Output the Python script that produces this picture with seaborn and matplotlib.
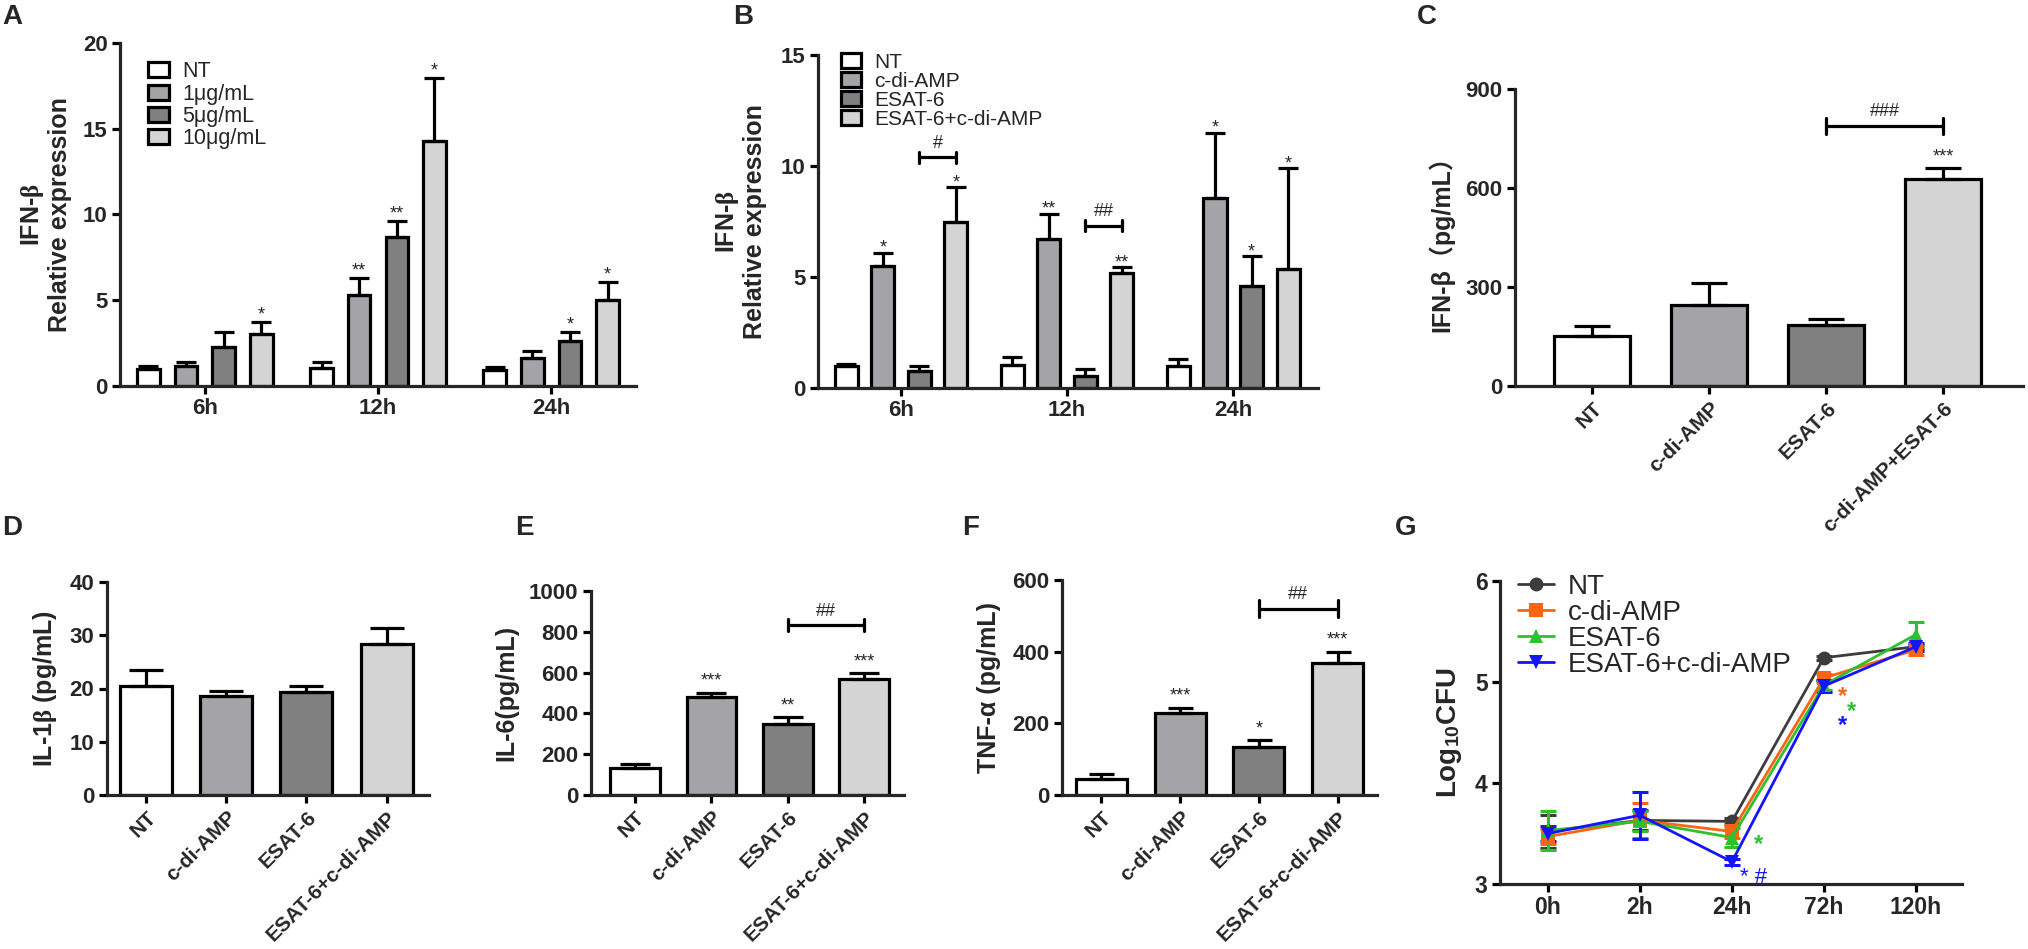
import numpy as np
import pandas as pd
import matplotlib
matplotlib.use("Agg")
import matplotlib.pyplot as plt
import seaborn as sns

# ---------------- data ----------------
# Panel A
a_times = ["6h", "12h", "24h"]
a_doses = ["NT", "1μg/mL", "5μg/mL", "10μg/mL"]
a_nt = [1.00, 1.05, 0.95]
a_nt_err = [1.15, 1.38, 1.10]
a_d1 = [1.18, 5.30, 1.65]
a_d1_err = [1.38, 6.30, 2.05]
a_d5 = [2.27, 8.70, 2.60]
a_d5_err = [3.15, 9.62, 3.15]
a_d10 = [3.03, 14.30, 5.02]
a_d10_err = [3.73, 17.95, 6.07]
a_sig = [["", "", "", "*"], ["", "**", "**", "*"], ["", "", "*", "*"]]

# Panel B
b_times = ["6h", "12h", "24h"]
b_groups = ["NT", "c-di-AMP", "ESAT-6", "ESAT-6+c-di-AMP"]
b_nt = [1.00, 1.05, 1.00]
b_nt_err = [1.10, 1.40, 1.30]
b_cdi = [5.50, 6.70, 8.57]
b_cdi_err = [6.10, 7.85, 11.50]
b_esat = [0.75, 0.55, 4.60]
b_esat_err = [1.00, 0.85, 5.95]
b_comb = [7.50, 5.20, 5.35]
b_comb_err = [9.05, 5.45, 9.90]
b_sig = [["", "*", "", "*"], ["", "**", "", "**"], ["", "*", "*", "*"]]
b_hash = ["#", "##", ""]
b_hash_y = [10.4, 7.3, None]

# Panel C
c_groups = ["NT", "c-di-AMP", "ESAT-6", "c-di-AMP+ESAT-6"]
c_vals = [151, 245, 185, 628]
c_err = [182, 312, 202, 661]
c_sig = ["", "", "", "***"]
c_hash, c_hash_y = "###", 788

# Panels D, E, F
def_groups = ["NT", "c-di-AMP", "ESAT-6", "ESAT-6+c-di-AMP"]
d_vals = [20.4, 18.6, 19.4, 28.3]
d_err = [23.4, 19.6, 20.5, 31.3]
d_sig = ["", "", "", ""]
e_vals = [131, 482, 348, 569]
e_err = [150, 502, 382, 597]
e_sig = ["", "***", "**", "***"]
e_hash, e_hash_y = "##", 833
f_vals = [44, 229, 135, 367]
f_err = [60, 244, 154, 400]
f_sig = ["", "***", "*", "***"]
f_hash, f_hash_y = "##", 520

# Panel G
g_times = ["0h", "2h", "24h", "72h", "120h"]
g_nt = [3.52, 3.63, 3.62, 5.24, 5.35]
g_nt_sd = [0.16, 0.10, 0.03, 0.02, 0.02]
g_cdi = [3.47, 3.63, 3.52, 5.04, 5.32]
g_cdi_sd = [0.07, 0.17, 0.06, 0.04, 0.05]
g_esat = [3.53, 3.62, 3.46, 4.97, 5.47]
g_esat_sd = [0.19, 0.10, 0.09, 0.05, 0.12]
g_comb = [3.50, 3.68, 3.22, 4.96, 5.35]
g_comb_sd = [0.07, 0.23, 0.03, 0.06, 0.04]

# ---------------- style ----------------
sns.set_style("ticks")
plt.rcParams["font.family"] = ["Liberation Sans", "Noto Sans CJK SC", "DejaVu Sans"]
plt.rcParams["font.weight"] = "bold"
plt.rcParams["axes.labelweight"] = "bold"
plt.rcParams["mathtext.fontset"] = "custom"
plt.rcParams["mathtext.rm"] = "Liberation Serif"
plt.rcParams["mathtext.it"] = "Liberation Serif:italic"
plt.rcParams["mathtext.bf"] = "Liberation Sans:bold"
plt.rcParams["mathtext.sf"] = "Liberation Sans"

bar_pal = ["#FFFFFF", "#A3A3A8", "#808080", "#D4D4D4"]
LW = 2.3
TICK_FS = 16
LAB_FS = 18

W, H = 2028, 949
fig = plt.figure(figsize=(W / 100, H / 100), dpi=100)


def add_ax(l, r, t, b):
    return fig.add_axes([l / W, 1 - b / H, (r - l) / W, (b - t) / H])


def style(ax):
    sns.despine(ax=ax)
    for s in ["left", "bottom"]:
        ax.spines[s].set_linewidth(LW)
    ax.tick_params(width=LW, length=6, labelsize=TICK_FS, pad=3, color="black")
    for lab in ax.get_xticklabels() + ax.get_yticklabels():
        lab.set_fontweight("bold")


def bars_sorted(ax):
    bs = [p for c in ax.containers for p in c]
    return sorted(bs, key=lambda p: p.get_x())


def add_err(ax, bars, tops, capsize):
    xs = [b.get_x() + b.get_width() / 2 for b in bars]
    hs = [b.get_height() for b in bars]
    up = [t - h for t, h in zip(tops, hs)]
    ax.errorbar(xs, hs, yerr=[np.zeros(len(hs)), up], fmt="none", ecolor="black",
                elinewidth=LW, capsize=capsize, capthick=LW, zorder=1)
    return xs


def add_sig(ax, xs, tops, sigs, fs=13, off=-1):
    for x, t, s in zip(xs, tops, sigs):
        if s:
            ax.annotate(s, (x, t), xytext=(0, off), textcoords="offset points",
                        ha="center", va="bottom", fontsize=fs, fontweight="normal")


def bracket(ax, x1, x2, y, text, tick, fs=13):
    ax.plot([x1, x2], [y, y], color="black", lw=LW, solid_capstyle="butt")
    ax.plot([x1, x1], [y - tick, y + tick], color="black", lw=LW)
    ax.plot([x2, x2], [y - tick, y + tick], color="black", lw=LW)
    ax.annotate(text, ((x1 + x2) / 2, y), xytext=(0, 4), textcoords="offset points",
                ha="center", va="bottom", fontsize=fs, fontweight="normal")


# ---------------- Panel A ----------------
axA = add_ax(120, 636, 43, 386)
dfA = pd.DataFrame({
    "time": a_times * 4,
    "dose": sum([[d] * 3 for d in a_doses], []),
    "val": a_nt + a_d1 + a_d5 + a_d10,
})
sns.barplot(data=dfA, x="time", y="val", hue="dose", order=a_times, hue_order=a_doses,
            palette=bar_pal, saturation=1, edgecolor="black", linewidth=LW,
            width=0.87, gap=0.4, errorbar=None, ax=axA)
errA = [[a_nt_err[i], a_d1_err[i], a_d5_err[i], a_d10_err[i]] for i in range(3)]
barsA = bars_sorted(axA)
topsA = sum(errA, [])
xsA = add_err(axA, barsA, topsA, 7)
add_sig(axA, xsA, topsA, sum(a_sig, []))
axA.set_ylim(0, 20)
axA.set_yticks([0, 5, 10, 15, 20])
axA.set_xlim(-0.49, 2.49)
axA.set_xlabel("")
axA.set_ylabel("IFN-$\\mathrm{\\beta}$\nRelative expression", fontsize=LAB_FS, labelpad=8,
               linespacing=1.1)
style(axA)
sns.move_legend(axA, "upper left", bbox_to_anchor=(0.025, 0.99), frameon=False, title=None,
                fontsize=15.5, handlelength=1.0, handleheight=0.7, labelspacing=0.05,
                handletextpad=0.6, borderaxespad=0.3)
for t in axA.get_legend().get_texts():
    t.set_fontweight("normal")

# ---------------- Panel B ----------------
axB = add_ax(818, 1318, 55, 388)
dfB = pd.DataFrame({
    "time": b_times * 4,
    "grp": sum([[g] * 3 for g in b_groups], []),
    "val": b_nt + b_cdi + b_esat + b_comb,
})
sns.barplot(data=dfB, x="time", y="val", hue="grp", order=b_times, hue_order=b_groups,
            palette=bar_pal, saturation=1, edgecolor="black", linewidth=LW,
            width=0.88, gap=0.37, errorbar=None, ax=axB)
errB = [[b_nt_err[i], b_cdi_err[i], b_esat_err[i], b_comb_err[i]] for i in range(3)]
barsB = bars_sorted(axB)
topsB = sum(errB, [])
xsB = add_err(axB, barsB, topsB, 7)
add_sig(axB, xsB, topsB, sum(b_sig, []), off=-3)
for i in range(3):
    if b_hash[i]:
        bracket(axB, xsB[4 * i + 2], xsB[4 * i + 3], b_hash_y[i], b_hash[i], 0.25)
axB.set_ylim(0, 15)
axB.set_yticks([0, 5, 10, 15])
axB.set_xlim(-0.5, 2.51)
axB.set_xlabel("")
axB.set_ylabel("IFN-$\\mathrm{\\beta}$\nRelative expression", fontsize=LAB_FS, labelpad=10,
               linespacing=1.1)
style(axB)
sns.move_legend(axB, "upper left", bbox_to_anchor=(0.02, 1.045), frameon=False, title=None,
                fontsize=15, handlelength=1.0, handleheight=0.7, labelspacing=0.0,
                handletextpad=0.6, borderaxespad=0.2)
for t in axB.get_legend().get_texts():
    t.set_fontweight("normal")


# ---------------- simple bar panels ----------------
def simple_bars(ax, groups, vals, errs, sigs, capsize, width=0.65):
    df = pd.DataFrame({"grp": groups, "val": vals})
    sns.barplot(data=df, x="grp", y="val", hue="grp", order=groups, hue_order=groups,
                palette=bar_pal, saturation=1, edgecolor="black", linewidth=LW,
                width=width, errorbar=None, legend=False, ax=ax)
    bars = bars_sorted(ax)
    xs = add_err(ax, bars, errs, capsize)
    add_sig(ax, xs, errs, sigs, off=2)
    ax.set_xlabel("")
    return xs


BOT = 795
# C
axC = add_ax(1515, 2023, 89, 386)
xsC = simple_bars(axC, c_groups, c_vals, c_err, c_sig, 13)
bracket(axC, xsC[2], xsC[3], c_hash_y, c_hash, 25)
axC.set_ylim(0, 900)
axC.set_yticks([0, 300, 600, 900])
axC.set_xlim(-0.66, 3.68)
axC.set_ylabel("IFN-β（pg/mL）", fontsize=LAB_FS, labelpad=8)
style(axC)
axC.set_xticks(range(4))
axC.set_xticklabels(c_groups, rotation=45, ha="right", rotation_mode="anchor",
                    fontsize=15, fontweight="bold")

# D
axD = add_ax(107, 429, 582, BOT)
xsD = simple_bars(axD, def_groups, d_vals, d_err, d_sig, 12)
axD.set_ylim(0, 40)
axD.set_yticks([0, 10, 20, 30, 40])
axD.set_xlim(-0.49, 3.53)
axD.set_ylabel("IL-1$\\mathrm{\\beta}$ (pg/mL)", fontsize=LAB_FS, labelpad=8)
style(axD)

# E
axE = add_ax(591, 904, 591, BOT)
xsE = simple_bars(axE, def_groups, e_vals, e_err, e_sig, 11)
bracket(axE, xsE[2], xsE[3], e_hash_y, e_hash, 28)
axE.set_ylim(0, 1000)
axE.set_yticks([0, 200, 400, 600, 800, 1000])
axE.set_xlim(-0.575, 3.52)
axE.set_ylabel("IL-6(pg/mL)", fontsize=LAB_FS, labelpad=8)
style(axE)

# F
axF = add_ax(1062, 1377, 580, BOT)
xsF = simple_bars(axF, def_groups, f_vals, f_err, f_sig, 9)
bracket(axF, xsF[2], xsF[3], f_hash_y, f_hash, 24)
axF.set_ylim(0, 600)
axF.set_yticks([0, 200, 400, 600])
axF.set_xlim(-0.5, 3.5)
axF.set_ylabel("TNF-α (pg/mL)", fontsize=LAB_FS, labelpad=8)
style(axF)

for ax in (axD, axE, axF):
    ax.set_xticks(range(4))
    ax.set_xticklabels(def_groups, rotation=45, ha="right", rotation_mode="anchor",
                       fontsize=15, fontweight="bold")

# ---------------- Panel G ----------------
axG = add_ax(1500, 1962, 581, 884)
g_groups = ["NT", "c-di-AMP", "ESAT-6", "ESAT-6+c-di-AMP"]
g_cols = {"NT": "#3C3C3C", "c-di-AMP": "#FF6414", "ESAT-6": "#2DC22D",
          "ESAT-6+c-di-AMP": "#1414FF"}
g_marks = {"NT": "o", "c-di-AMP": "s", "ESAT-6": "^", "ESAT-6+c-di-AMP": "v"}
g_means = {"NT": g_nt, "c-di-AMP": g_cdi, "ESAT-6": g_esat, "ESAT-6+c-di-AMP": g_comb}
g_sds = {"NT": g_nt_sd, "c-di-AMP": g_cdi_sd, "ESAT-6": g_esat_sd,
         "ESAT-6+c-di-AMP": g_comb_sd}
dfG = pd.DataFrame({
    "t": list(range(5)) * 4,
    "grp": sum([[g] * 5 for g in g_groups], []),
    "v": g_nt + g_cdi + g_esat + g_comb,
})
sns.lineplot(data=dfG, x="t", y="v", hue="grp", style="grp", hue_order=g_groups,
             style_order=g_groups, palette=g_cols, markers=g_marks, dashes=False,
             linewidth=2.0, markersize=10, markeredgewidth=0, errorbar=None, ax=axG)
for g in g_groups:
    axG.errorbar(range(5), g_means[g], yerr=g_sds[g], fmt="none", ecolor=g_cols[g],
                 elinewidth=2.2, capsize=6, capthick=2.2, zorder=1)
# significance marks (72h: below the curves; 24h: beside the points)
for i, g in enumerate(["c-di-AMP", "ESAT-6", "ESAT-6+c-di-AMP"]):
    axG.annotate("*", (3, g_means["NT"][3]), xytext=(13 + 7 * (i % 2), -28 - 10.5 * i),
                 textcoords="offset points", ha="center", va="center", fontsize=17,
                 fontweight="bold", color=g_cols[g])
axG.annotate("*", (2, g_means["ESAT-6"][2]), xytext=(19, -5), textcoords="offset points",
             ha="center", va="center", fontsize=17, fontweight="bold",
             color=g_cols["ESAT-6"])
axG.annotate("* #", (2, g_means["ESAT-6+c-di-AMP"][2]), xytext=(6, -4),
             textcoords="offset points", ha="left", va="top", fontsize=16,
             fontweight="normal", color=g_cols["ESAT-6+c-di-AMP"])
axG.set_ylim(3, 6)
axG.set_yticks([3, 4, 5, 6])
axG.set_xlim(-0.52, 4.5)
axG.set_xticks(range(5))
axG.set_xticklabels(g_times)
axG.set_xlabel("")
axG.set_ylabel("Log$_{\\mathbf{10}}$CFU", fontsize=20, labelpad=8)
style(axG)
axG.tick_params(labelsize=16.5)
sns.move_legend(axG, "upper left", bbox_to_anchor=(0.015, 1.06), frameon=False, title=None,
                fontsize=20, handlelength=1.3, labelspacing=0.0, handletextpad=0.5,
                borderaxespad=0.0)
for t in axG.get_legend().get_texts():
    t.set_fontweight("normal")

# ---------------- panel letters ----------------
for txt, x, y in [("A", 2, 17), ("B", 733, 17), ("C", 1417, 17), ("D", 2, 528),
                  ("E", 515, 528), ("F", 962, 528), ("G", 1395, 528)]:
    fig.text(x / W, 1 - y / H, txt, fontsize=20, fontweight="bold", ha="left", va="center")

fig.savefig("out.png", dpi=100)
